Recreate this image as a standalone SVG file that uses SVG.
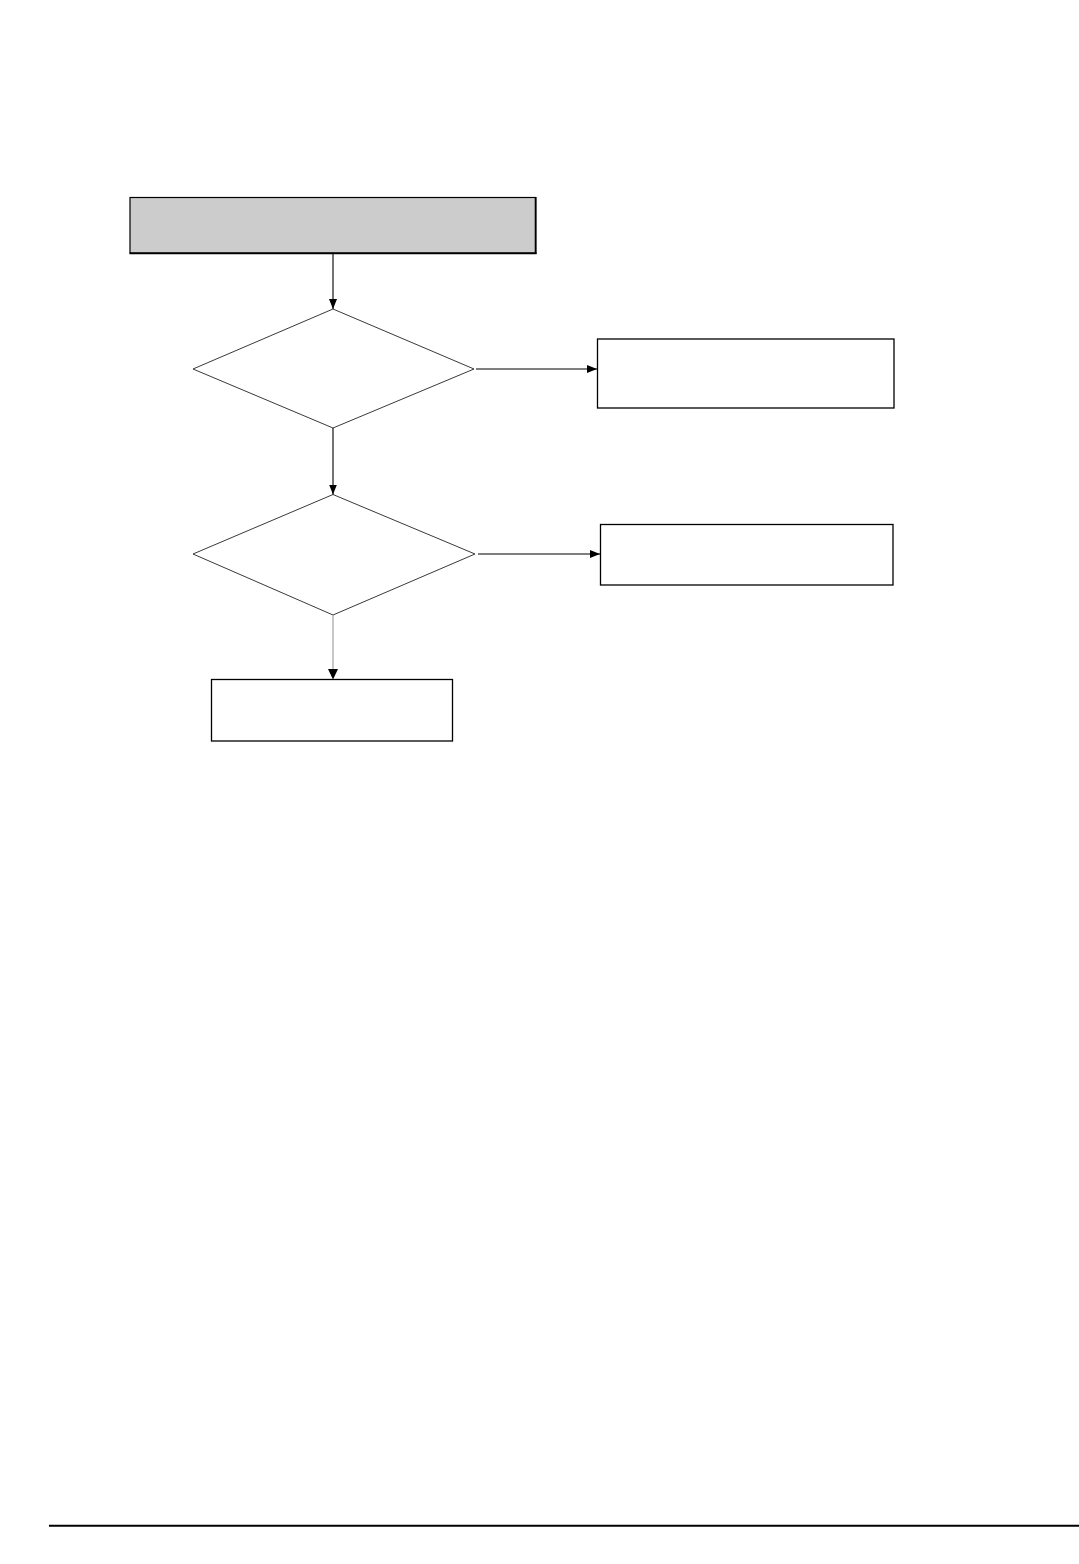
<svg xmlns="http://www.w3.org/2000/svg" width="1079" height="1564" viewBox="0 0 1079 1564">
<style>
.box{fill:#fff;stroke:#000;stroke-width:1.3}
.dia{fill:#fff;stroke:#222;stroke-width:0.9}
.edge{stroke:#000;stroke-width:1.1;fill:none}
</style>
<defs>
<marker id="ah" markerWidth="10" markerHeight="8" refX="10" refY="4" orient="auto" markerUnits="userSpaceOnUse">
<path d="M0,0 L10,4 L0,8 z" fill="#000"/>
</marker>
</defs>
<rect width="1079" height="1564" fill="#fff"/>
<g id="start">
<rect x="130" y="197.5" width="405.5" height="55.5" fill="#cccccc" stroke="#000" stroke-width="1.2"/>
<line x1="535.7" y1="197" x2="535.7" y2="254" stroke="#000" stroke-width="1.8"/>
<line x1="129.5" y1="253.3" x2="536.5" y2="253.3" stroke="#000" stroke-width="1.8"/>
</g>
<g id="decision1"><polygon class="dia" points="333,309 474,369 333,428 193,369"/></g>
<g id="box1"><rect class="box" x="597.5" y="339" width="296.5" height="69"/></g>
<g id="decision2"><polygon class="dia" points="333,494.5 475,554 333,615 193,554"/></g>
<g id="box2"><rect class="box" x="600.5" y="524.5" width="292.5" height="60.5"/></g>
<g id="box3"><rect class="box" x="211.5" y="679.5" width="241" height="61.5"/></g>
<g id="connectors">
<line class="edge" x1="333" y1="253" x2="333" y2="309" marker-end="url(#ah)"/>
<line class="edge" x1="476" y1="369" x2="597" y2="369" marker-end="url(#ah)"/>
<line class="edge" x1="333" y1="428" x2="333" y2="494.5" marker-end="url(#ah)"/>
<line class="edge" x1="478" y1="554" x2="600" y2="554" marker-end="url(#ah)"/>
<line x1="333" y1="615" x2="333" y2="670" stroke="#999" stroke-width="1.1"/>
<path d="M328,669 L338,669 L333,679.5 z" fill="#000"/>
</g>
<line x1="49" y1="1525.7" x2="1079" y2="1525.7" stroke="#000" stroke-width="2"/>
</svg>
